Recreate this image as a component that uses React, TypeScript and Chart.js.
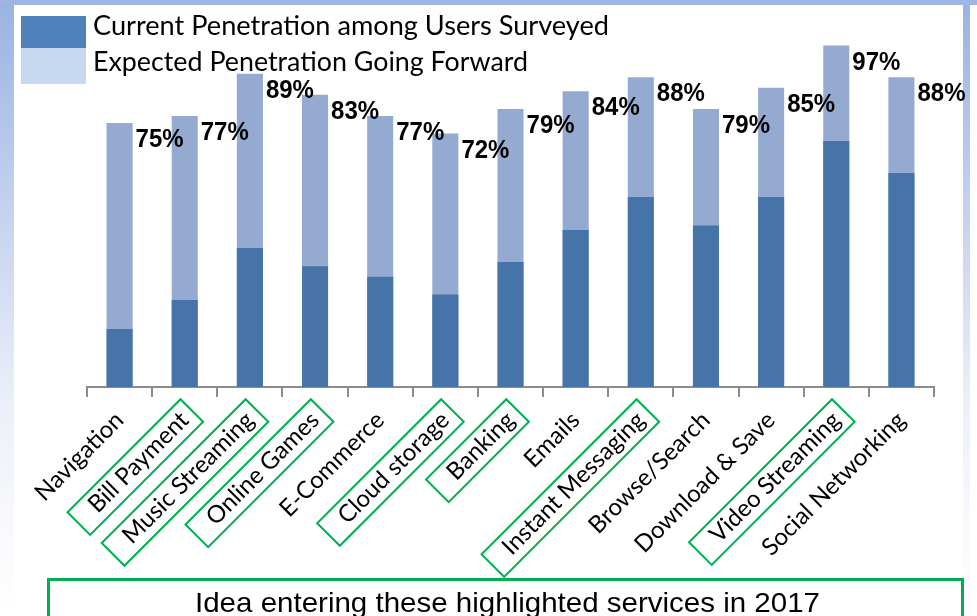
import React, { useEffect, useRef } from 'react';
import { Chart, registerables } from 'chart.js';

Chart.register(...registerables);

const categories = [
  'Navigation',
  'Bill Payment',
  'Music Streaming',
  'Online Games',
  'E-Commerce',
  'Cloud storage',
  'Banking',
  'Emails',
  'Instant Messaging',
  'Browse/Search',
  'Download & Save',
  'Video Streaming',
  'Social Networking',
];
const currentPenetration = [16.5, 24.7, 39.5, 34.3, 31.3, 26.3, 35.5, 44.6, 54, 45.9, 54, 69.9, 60.8];
const expectedPenetration = [75, 77, 89, 83, 77, 72, 79, 84, 88, 79, 85, 97, 88];
const highlighted = [
  'Bill Payment',
  'Music Streaming',
  'Online Games',
  'Cloud storage',
  'Banking',
  'Instant Messaging',
  'Video Streaming',
];
const legendLabels = ['Current Penetration among Users Surveyed', 'Expected Penetration Going Forward'];
const footnote = 'Idea entering these highlighted services in 2017';

const DARK = '#4673a8';
const LIGHT = '#95aad0';
const GREEN = '#00b050';

function fittedText(ctx: CanvasRenderingContext2D, text: string, x: number, y: number, width: number) {
  const w0 = ctx.measureText(text).width;
  ctx.save();
  ctx.translate(x, y);
  ctx.scale(width / w0, 1);
  ctx.textAlign = 'left';
  ctx.textBaseline = 'alphabetic';
  ctx.fillText(text, 0, 0);
  ctx.restore();
}

const backgroundPlugin = {
  id: 'bgFrame',
  beforeDraw(chart: any) {
    const { ctx, width, height } = chart;
    ctx.save();
    ctx.fillStyle = '#ffffff';
    ctx.fillRect(0, 0, width, height);
    const g = ctx.createLinearGradient(0, 0, 0, height);
    g.addColorStop(0, '#9ab3e2');
    g.addColorStop(0.33, '#c3d1ee');
    g.addColorStop(0.65, '#eaeff9');
    g.addColorStop(0.85, '#f8f9fd');
    g.addColorStop(1, '#ffffff');
    ctx.fillStyle = g;
    ctx.fillRect(0, 0, 14, height);
    ctx.fillRect(963, 0, 7, height);
    ctx.fillStyle = '#9db6e3';
    ctx.fillRect(0, 0, width, 5);
    ctx.restore();
  },
};

const decorPlugin = {
  id: 'decor',
  afterDatasetsDraw(chart: any) {
    const { ctx } = chart;
    const meta = chart.getDatasetMeta(1);
    ctx.save();
    ctx.fillStyle = '#000';
    ctx.font = 'bold 25px "Liberation Sans", Arial, sans-serif';
    meta.data.forEach((bar: any, i: number) => {
      const label = expectedPenetration[i] + '%';
      ctx.save();
      ctx.translate(bar.x + bar.width / 2 + 3, bar.y + 24);
      ctx.scale(0.96, 1);
      ctx.textAlign = 'left';
      ctx.textBaseline = 'alphabetic';
      ctx.fillText(label, 0, 0);
      ctx.restore();
    });
    ctx.restore();
  },
  afterDraw(chart: any) {
    const { ctx } = chart;
    const xScale = chart.scales.x;
    ctx.save();
    // legend
    ctx.fillStyle = '#4f81bd';
    ctx.fillRect(21, 16, 65, 32);
    ctx.fillStyle = '#c6d8ef';
    ctx.fillRect(21, 48, 65, 36);
    ctx.fillStyle = '#000';
    ctx.font = '27px Lato, sans-serif';
    fittedText(ctx, legendLabels[0], 93, 35, 516);
    fittedText(ctx, legendLabels[1], 93, 71, 435);

    // highlight boxes around labels
    const items = xScale.getLabelItems();
    ctx.strokeStyle = GREEN;
    ctx.lineWidth = 2;
    items.forEach((item: any, i: number) => {
      const label = categories[i];
      if (highlighted.indexOf(label) === -1) return;
      const opts = item.options;
      const [tx, ty] = opts.translation;
      const size = item.font.size;
      ctx.font = item.font.string;
      const w = ctx.measureText(label).width;
      let mid = item.textOffset;
      if (opts.textBaseline === 'top') mid = item.textOffset + size / 2;
      else if (opts.textBaseline === 'bottom') mid = item.textOffset - size / 2;
      ctx.save();
      ctx.translate(tx, ty);
      ctx.rotate(opts.rotation);
      const padStart = 20;
      const padEnd = 9;
      ctx.strokeRect(-w - padStart, mid - 15, w + padStart + padEnd, 32);
      ctx.restore();
    });

    // footnote box
    ctx.strokeStyle = GREEN;
    ctx.lineWidth = 3;
    ctx.strokeRect(48.5, 579.5, 914, 60);
    ctx.fillStyle = '#000';
    ctx.font = '28px "Liberation Sans", Arial, sans-serif';
    fittedText(ctx, footnote, 195, 612, 625);
    ctx.restore();
  },
};

export default function App() {
  const canvasRef = useRef<HTMLCanvasElement | null>(null);

  useEffect(() => {
    const canvas = canvasRef.current;
    if (!canvas) return;
    const chart = new Chart(canvas, {
      type: 'bar',
      data: {
        labels: categories,
        datasets: [
          {
            label: legendLabels[0],
            data: currentPenetration,
            backgroundColor: DARK,
            borderWidth: 0,
            categoryPercentage: 0.4,
            barPercentage: 1,
          },
          {
            label: legendLabels[1],
            data: expectedPenetration,
            backgroundColor: LIGHT,
            borderWidth: 0,
            categoryPercentage: 0.4,
            barPercentage: 1,
          },
        ],
      },
      options: {
        responsive: false,
        animation: false,
        devicePixelRatio: 1,
        layout: { padding: { left: 87, right: 43, top: 35, bottom: 0 } },
        plugins: {
          legend: { display: false },
          tooltip: { enabled: false },
          title: { display: false },
        },
        scales: {
          x: {
            stacked: true,
            offset: true,
            grid: {
              display: true,
              drawOnChartArea: false,
              drawTicks: true,
              tickLength: 10,
              color: '#8c8c8c',
              lineWidth: 2,
              offset: true,
            },
            border: { display: true, color: '#8c8c8c', width: 2 },
            ticks: {
              autoSkip: false,
              maxRotation: 45,
              minRotation: 45,
              color: '#000',
              padding: 9,
              font: { family: 'Lato, sans-serif', size: 24 },
            },
            afterFit: (scale: any) => {
              scale.height = 229;
            },
          },
          y: {
            display: false,
            stacked: false,
            min: 0,
            max: 100,
          },
        },
      },
      plugins: [backgroundPlugin, decorPlugin],
    });
    return () => chart.destroy();
  }, []);

  return (
    <div style={{ position: 'fixed', left: 0, top: 0, width: 977, height: 616, overflow: 'hidden' }}>
      <canvas ref={canvasRef} width={977} height={616} style={{ width: 977, height: 616, display: 'block' }} />
    </div>
  );
}
